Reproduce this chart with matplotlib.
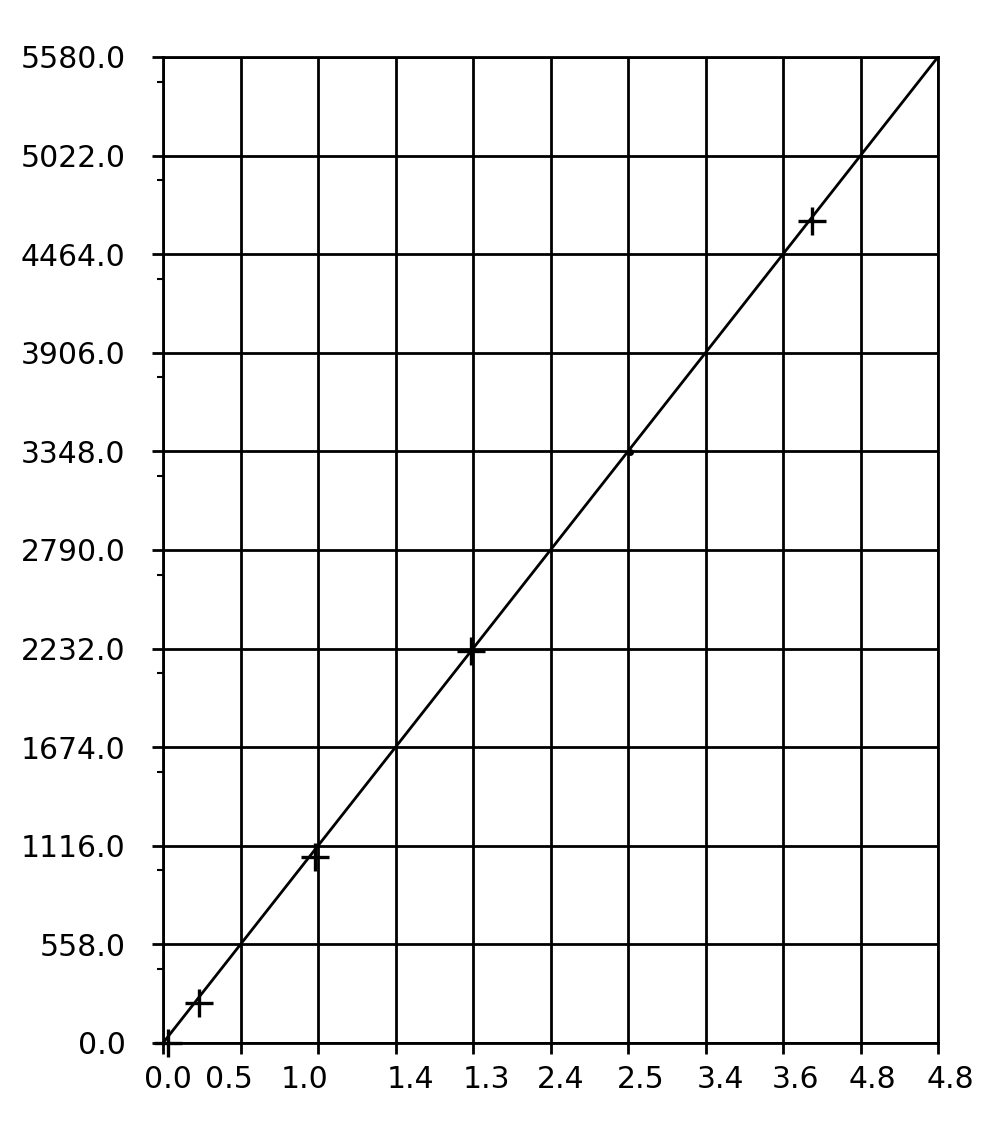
import matplotlib
matplotlib.use("Agg")
import matplotlib.pyplot as plt
from matplotlib.transforms import ScaledTranslation

# ── Data ──────────────────────────────────────────────────────────────────────
x_ticks = [0.0, 0.5, 1.0, 1.5, 2.0, 2.5, 3.0, 3.5, 4.0, 4.5, 5.0]
x_tick_labels = ["0.0", "0.5", "1.0", "1.4", "1.3", "2.4",
                 "2.5", "3.4", "3.6", "4.8", "4.8"]
y_ticks = [0.0, 558.0, 1116.0, 1674.0, 2232.0, 2790.0,
           3348.0, 3906.0, 4464.0, 5022.0, 5580.0]

line_x = [0.0, 5.0]
line_y = [0.0, 5580.0]

marker_x = [0.03, 0.23, 0.98, 1.99, 4.19]
marker_y = [0.0, 226.0, 1053.0, 2218.0, 4652.0]

dot_x = [3.01]
dot_y = [3345.0]

# horizontal nudges of the x tick labels (pixels), as drawn in the reference
X_LABEL_SHIFT_PX = [5, -12, -13, 15, 13, 10, 13, 15, 13, 12, 12]

# ── Figure ────────────────────────────────────────────────────────────────────
DPI = 100
fig = plt.figure(figsize=(10, 11.3), dpi=DPI)
fig.patch.set_facecolor("white")
ax = fig.add_axes([0.163, 0.077, 0.775, 0.8726])

ax.plot(line_x, line_y, color="black", lw=2.0, zorder=3)
ax.plot(marker_x, marker_y, linestyle="none", marker="+", markersize=20,
        markeredgewidth=2.4, color="black", zorder=5, clip_on=False)
ax.plot(dot_x, dot_y, linestyle="none", marker="o", markersize=4,
        color="black", zorder=4)

ax.set_xlim(0, 5.0)
ax.set_ylim(0, 5580.0)

ax.set_xticks(x_ticks)
ax.set_xticklabels(x_tick_labels)
ax.set_yticks(y_ticks)
ax.set_yticklabels([f"{v:.1f}" for v in y_ticks])
ax.set_yticks([v - 139.5 for v in y_ticks[1:]], minor=True)

ax.grid(True, which="major", color="black", lw=2.0)
ax.set_axisbelow(True)
for s in ax.spines.values():
    s.set_linewidth(2.0)
    s.set_color("black")

ax.tick_params(axis="x", which="major", length=8, width=2.0, pad=8,
               labelsize=21.5, direction="out")
ax.tick_params(axis="y", which="major", length=8, width=2.0, pad=19,
               labelsize=21.5, direction="out")
ax.tick_params(axis="y", which="minor", length=4, width=1.5, direction="out")

for lab, dx in zip(ax.get_xticklabels(), X_LABEL_SHIFT_PX):
    lab.set_transform(lab.get_transform()
                      + ScaledTranslation(dx / DPI, 0, fig.dpi_scale_trans))

fig.savefig("out.png", dpi=DPI, facecolor="white")
